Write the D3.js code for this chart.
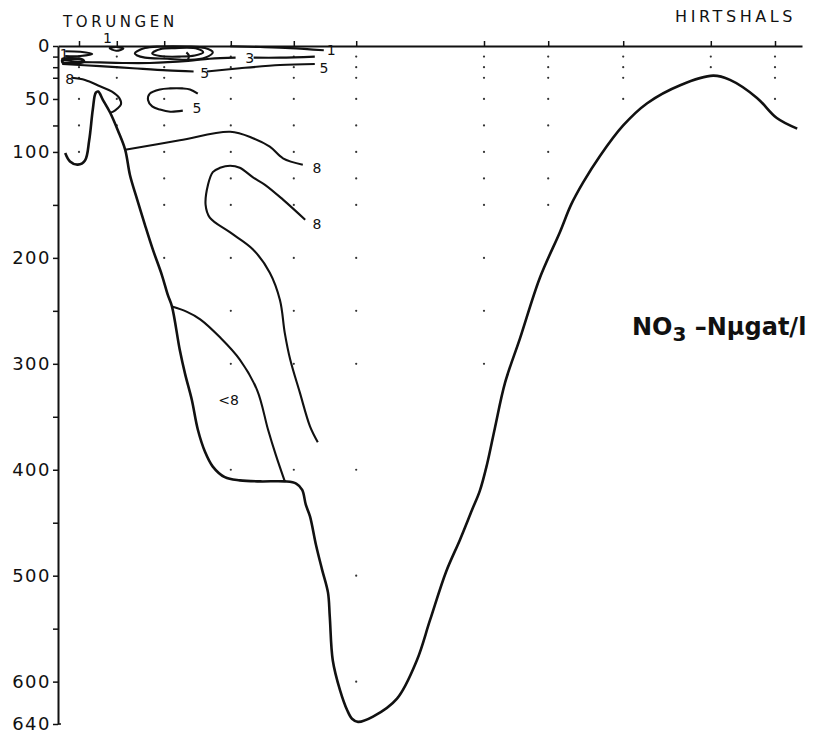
<!DOCTYPE html>
<html>
<head>
<meta charset="utf-8">
<script src="https://cdn.jsdelivr.net/npm/d3@7"></script>
<style>
  body { margin: 0; background: #fff; }
  text { font-family: "DejaVu Sans", sans-serif; fill: #111; }
</style>
</head>
<body>
<div id="section"></div>
<script>
// Section Torungen - Hirtshals, NO3-N (distance in km, depth in m)

// station positions and deepest sample at each
var stationKm    = [3.5, 9.8, 17.7, 28.8, 39.3, 49.7, 71, 81.7, 94.2, 108.8, 119.5];
var stationMaxD  = [100, 75, 200, 400, 400, 600, 300, 150, 50, 20, 50];
var sampleDepths = [10, 20, 30, 50, 75, 100, 125, 150, 200, 250, 300, 400, 500, 600];

// depth axis
var depthTicks  = [0, 10, 20, 30, 50, 75, 100, 150, 200, 250, 300, 350, 400, 450, 500, 550, 600, 640];
var depthLabels = [0, 50, 100, 200, 300, 400, 500, 600, 640];

// bottom profile
var bottomKm = [1.2, 2.0, 3.3, 4.5, 5.2, 5.8, 6.3, 6.7, 7.5, 8.7, 10, 11.2, 12, 13.2, 14.5, 15.8, 17.3, 18.3, 19,
  20.3, 21.2, 22.3, 23.3, 24.5, 25.8, 27.8, 30.3, 33.7, 37.8, 39.7, 40.7, 41.3, 42, 43, 44, 45, 45.3, 45.8,
  47, 48.2, 49, 50, 52.5, 56.5, 59.8, 62, 64.7, 67, 69, 70.3, 71.5, 72.8, 74.5, 77, 80.3, 83.7, 85.5,
  87.5, 90.3, 94.2, 98.2, 103.7, 109.2, 112, 116.5, 119.8, 123.2];
var bottomDepth = [101, 109, 112, 108, 89, 60, 44, 43, 51, 63, 80, 98, 122, 145, 169, 192, 216, 235, 246,
  287, 310, 334, 362, 383, 397, 407, 410, 411, 411, 413, 419, 433, 444, 471, 494, 516, 539, 580,
  608, 627, 635, 638, 633, 616, 580, 542, 496, 466, 438, 420, 395, 361, 318, 276, 219, 175, 150,
  129, 104, 75, 54, 37, 28, 32, 49, 68, 78];

// isolines: [km, depth] pairs
var iso8a   = [[2.3, 30], [4.5, 32], [7, 38], [9, 43], [10.2, 49], [10.5, 55], [9.9, 59], [9.2, 62], [8.7, 63]];
var iso8b   = [[11.2, 98], [20.3, 89], [28.7, 81], [32.5, 87], [35.3, 95], [37.5, 106], [40.8, 112]];
var iso8c   = [[41.2, 164], [37.5, 145], [34.5, 131], [32.5, 124], [30.3, 115], [28.7, 113], [27, 115],
  [25.8, 119], [25, 131], [24.6, 150], [25.3, 162], [28.7, 176], [32.5, 192], [35.3, 214], [37, 240],
  [37.8, 271], [38.7, 296], [40.3, 327], [42, 359], [43.3, 374]];
var isoLt8  = [[19, 246], [21.5, 251], [23.7, 258], [27, 275], [30.3, 296], [33.2, 325], [35, 362], [36.3, 386], [37.8, 411]];
var iso5c   = [[23.3, 45], [22, 41], [20.7, 40], [18.7, 40], [17, 41], [15.3, 45], [15, 51], [15.7, 57],
  [17, 60], [18.7, 62], [20.8, 61]];
var iso3    = [[0.7, 13], [3.3, 15], [7, 15.5], [10.7, 16], [15.3, 16], [21.7, 14], [25.3, 12], [29.6, 11]];
var iso3r   = [[32.6, 11], [37, 11], [42.8, 10]];
var iso5    = [[0.7, 17], [7, 19], [12.5, 21], [18.2, 23], [22.6, 24]];
var iso5r   = [[24.8, 24], [30.3, 21], [37, 18], [42.8, 17]];
var iso1r   = [[28.7, 0.3], [33.7, 1], [38.7, 2], [44.3, 4]];
var iso1out = [[12.8, 7], [14.5, 2], [17, 0.5], [21.5, 0.5], [24.5, 2], [25.8, 6], [24.5, 11], [22, 13],
  [18.2, 12], [14.5, 11], [13.2, 9]];
var iso1in  = [[15.7, 7], [17, 3], [19.5, 2], [23.2, 2.5], [24.2, 6], [22.8, 9], [20.3, 10], [17, 9.5]];
var iso1l   = [[1.2, 5], [3.7, 5.5], [5.7, 7.5], [3.7, 9.5], [1.2, 9.5]];
var isoLens = [[8.6, 2], [9.7, 1], [10.9, 2.5], [9.7, 4.5]];
var isoKnot = [[0.8, 12.5], [2.2, 11.8], [3.9, 12.6], [4.3, 14.6], [2.6, 16.2], [0.8, 15.6]];
var isoLink = [[21.6, 14], [21.8, 9], [21.4, 6]];

// isoline labels
var isoLabelText = ["8", "8", "8", "<8", "5", "5", "5", "3", "1", "1", "1"];
var isoLabelPos  = [[1.2, 31], [42.4, 115], [42.4, 168], [26.7, 334], [22.4, 59], [23.7, 26], [43.6, 21],
  [31.2, 11], [44.8, 4], [7.5, -7.5], [0.3, 8]];

var margin = {top: 46, left: 58},
    width = 744,
    height = 678;

var svg = d3.select("#section")
  .append("svg")
    .attr("width", 824)
    .attr("height", 742)
  .append("g")
    .attr("transform", "translate(" + margin.left + "," + margin.top + ")");

var x = d3.scaleLinear().domain([0, 124]).range([0, width]);
var y = d3.scaleLinear().domain([0, 640]).range([0, height]);

// depth axis on the left
var yAxis = svg.append("g")
  .call(d3.axisLeft(y).tickValues(depthTicks).tickSize(5).tickSizeOuter(0)
    .tickFormat(function(d) { return depthLabels.indexOf(d) >= 0 ? d : ""; }));
yAxis.select(".domain").attr("stroke", "#111").attr("stroke-width", 2);
yAxis.selectAll(".tick line").attr("stroke", "#111").attr("stroke-width", 1.5);
yAxis.selectAll(".tick text")
  .attr("x", -7)
  .style("font-size", "18px")
  .style("letter-spacing", "1.5px")
  .attr("fill", "#111");
// small foot at 640
svg.append("line")
  .attr("x1", 0).attr("x2", 3)
  .attr("y1", y(640)).attr("y2", y(640))
  .attr("stroke", "#111").attr("stroke-width", 1.5);

// surface line with station ticks
var xAxis = svg.append("g")
  .call(d3.axisTop(x).tickValues(stationKm).tickSize(5).tickSizeOuter(0).tickFormat(""));
xAxis.select(".domain").attr("stroke", "#111").attr("stroke-width", 2);
xAxis.selectAll(".tick line").attr("stroke", "#111").attr("stroke-width", 1.5);

// sample dots
var samples = [];
stationKm.forEach(function(km, i) {
  sampleDepths.forEach(function(d) {
    if (d <= stationMaxD[i]) samples.push({km: km, depth: d});
  });
});
svg.selectAll("circle.sample")
  .data(samples)
  .enter()
  .append("circle")
    .attr("class", "sample")
    .attr("cx", function(d) { return x(d.km); })
    .attr("cy", function(d) { return y(d.depth); })
    .attr("r", 1.1)
    .attr("fill", "#333");

// bottom profile
var bottom = bottomKm.map(function(k, i) { return [k, bottomDepth[i]]; });
var line = d3.line()
  .x(function(d) { return x(d[0]); })
  .y(function(d) { return y(d[1]); })
  .curve(d3.curveCatmullRom);
var closedLine = d3.line()
  .x(function(d) { return x(d[0]); })
  .y(function(d) { return y(d[1]); })
  .curve(d3.curveCatmullRomClosed);

svg.append("path")
  .attr("d", line(bottom))
  .attr("fill", "none")
  .attr("stroke", "#111")
  .attr("stroke-width", 2.6)
  .attr("stroke-linejoin", "round");

// isolines
var openIso = [iso8a, iso8b, iso8c, isoLt8, iso5c, iso3, iso3r, iso5, iso5r, iso1r, iso1l, isoLink];
svg.selectAll("path.iso")
  .data(openIso)
  .enter()
  .append("path")
    .attr("class", "iso")
    .attr("d", line)
    .attr("fill", "none")
    .attr("stroke", "#111")
    .attr("stroke-width", 2.1);

var loopIso = [iso1out, iso1in, isoLens, isoKnot];
svg.selectAll("path.loop")
  .data(loopIso)
  .enter()
  .append("path")
    .attr("class", "loop")
    .attr("d", closedLine)
    .attr("fill", "none")
    .attr("stroke", "#111")
    .attr("stroke-width", function(d, i) { return i == 3 ? 3 : 2.1; });

svg.selectAll("text.isolabel")
  .data(isoLabelText)
  .enter()
  .append("text")
    .attr("class", "isolabel")
    .attr("x", function(d, i) { return x(isoLabelPos[i][0]); })
    .attr("y", function(d, i) { return y(isoLabelPos[i][1]); })
    .attr("dy", "0.35em")
    .style("font-size", "14px")
    .text(function(d) { return d; });

// place names
svg.append("text")
  .attr("x", 5).attr("y", -19)
  .style("font-size", "15px")
  .style("letter-spacing", "3.6px")
  .text("TORUNGEN");
svg.append("text")
  .attr("x", 617).attr("y", -24)
  .style("font-size", "16px")
  .style("letter-spacing", "3.6px")
  .text("HIRTSHALS");

// parameter title
var title = svg.append("text")
  .attr("x", 574).attr("y", 289)
  .style("font-size", "24px")
  .style("font-weight", "bold");
title.append("tspan").text("NO");
title.append("tspan").attr("dy", 6).style("font-size", "20px").text("3");
title.append("tspan").attr("dy", -6).text(" \u2013N\u00b5gat/l");
</script>
</body>
</html>
